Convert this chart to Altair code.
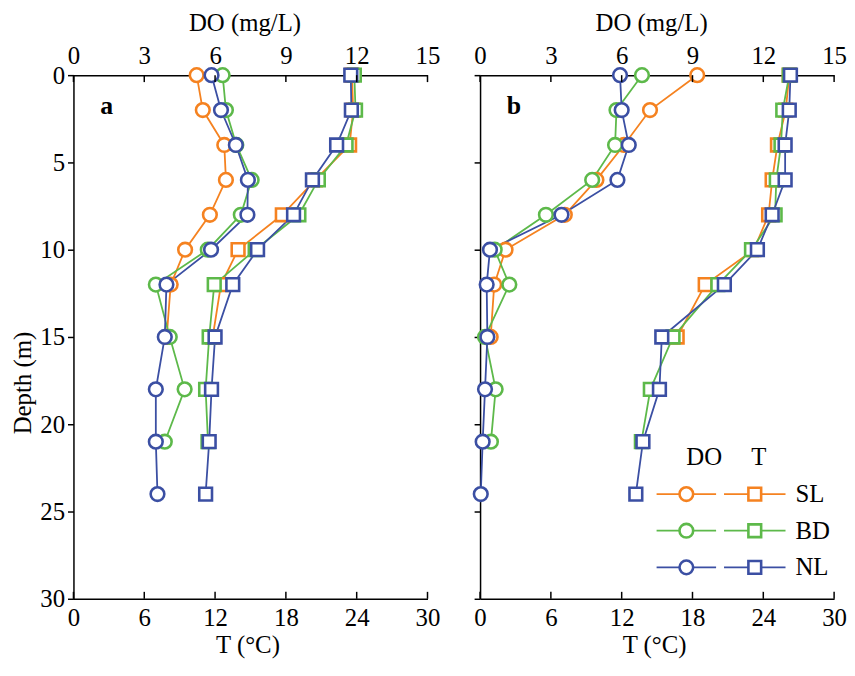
import altair as alt
import pandas as pd

# ---------------- data ----------------
depths = [0, 2, 4, 6, 8, 10, 12, 15, 18, 21, 24]
sites = ["SL", "BD", "NL"]
site_colors = ["#F58220", "#5DB94A", "#3B4FA3"]
do_ticks = [0, 3, 6, 9, 12, 15]
t_ticks = [0, 6, 12, 18, 24, 30]
depth_ticks = [0, 5, 10, 15, 20, 25, 30]

# panel a
a_do_SL = [5.22, 5.48, 6.39, 6.46, 5.78, 4.73, 4.12, 3.95]
a_do_BD = [6.32, 6.46, 6.90, 7.55, 7.09, 5.69, 3.49, 4.08, 4.71, 3.87]
a_do_NL = [5.85, 6.25, 6.88, 7.39, 7.37, 5.83, 3.94, 3.87, 3.49, 3.49, 3.56]
a_t_SL = [23.6, 23.7, 23.4, 20.5, 17.7, 13.95, 12.5, 11.8]
a_t_BD = [23.8, 23.9, 23.1, 20.75, 19.1, 15.4, 11.93, 11.5, 11.2, 11.4]
a_t_NL = [23.5, 23.55, 22.3, 20.25, 18.65, 15.6, 13.5, 12.0, 11.7, 11.5, 11.2]

# panel b
b_do_SL = [9.2, 7.2, 6.1, 4.93, 3.59, 1.08, 0.6, 0.45]
b_do_BD = [6.86, 5.78, 5.72, 4.75, 2.79, 0.62, 1.24, 0.21, 0.66, 0.46]
b_do_NL = [5.93, 6.0, 6.3, 5.82, 3.45, 0.42, 0.28, 0.31, 0.21, 0.11, 0.03]
b_t_SL = [26.2, 25.9, 25.2, 24.75, 24.45, 23.2, 19.08, 16.7]
b_t_BD = [26.2, 25.65, 25.5, 25.1, 25.0, 23.0, 20.15, 16.35, 14.43, 13.67]
b_t_NL = [26.3, 26.2, 25.85, 25.85, 24.75, 23.5, 20.7, 15.4, 15.2, 13.8, 13.2]

# ---------------- layout / style ----------------
W, H = 357, 528
FONT = "Liberation Serif"
FS = 25
CIRCLE, SQUARE, MSW = 190, 165, 2.6
color_scale = alt.Scale(domain=sites, range=site_colors)
AX = dict(labelFont=FONT, labelFontSize=FS, labelColor="black",
          titleFont=FONT, titleFontSize=FS, titleFontWeight="normal", titleColor="black",
          domainColor="black", domainWidth=1.5, tickColor="black", tickWidth=1.5,
          grid=False, labelFlush=False, labelOverlap=False)


def make_df(do_lists, t_lists):
    rows = []
    for site, dov, tv in zip(sites, do_lists, t_lists):
        for d, o, t in zip(depths, dov, tv):
            rows.append({"site": site, "depth": d, "DO": o, "T": t})
    return pd.DataFrame(rows)


def panel(df, letter, first, legend=False):
    base = alt.Chart(df)
    yax = dict(AX, values=depth_ticks, tickSize=6, labelPadding=3, titlePadding=4)
    if first:
        yax["title"] = "Depth (m)"
        yax["titleY"] = H / 2 + 46
    else:
        yax["title"] = ""
        yax["labels"] = False
    y_enc = alt.Y("depth:Q", scale=alt.Scale(domain=[0, 30], reverse=True, nice=False, zero=False),
                  axis=alt.Axis(**yax))
    do_scale = alt.Scale(domain=[0, 15], nice=False, zero=False)
    t_scale = alt.Scale(domain=[0, 30], nice=False, zero=False)
    x_do_ax = alt.X("DO:Q", scale=do_scale,
                    axis=alt.Axis(**dict(AX, orient="top", values=do_ticks, title="DO (mg/L)", tickSize=0,
                                         labelPadding=7, titlePadding=8, titleX=W / 2 - 6)))
    x_t_ax = alt.X("T:Q", scale=t_scale,
                   axis=alt.Axis(**dict(AX, orient="bottom", values=t_ticks, title="T (°C)", tickSize=0,
                                        labelPadding=7, titlePadding=2, titleX=W / 2 - 3)))
    x_do = alt.X("DO:Q", scale=do_scale, axis=None)
    x_t = alt.X("T:Q", scale=t_scale, axis=None)
    col = alt.Color("site:N", scale=color_scale, legend=None)
    stk = alt.Stroke("site:N", scale=color_scale, legend=None)

    l_do = base.mark_line(strokeWidth=1.8).encode(x=x_do_ax, y=y_enc, color=col, order=alt.Order("depth:Q"))
    l_t = base.mark_line(strokeWidth=1.8).encode(x=x_t_ax, y=y_enc, color=col, order=alt.Order("depth:Q"))
    p_do = base.mark_point(shape="circle", filled=False, fill="white", fillOpacity=1, opacity=1,
                           size=CIRCLE, strokeWidth=MSW).encode(x=x_do, y=y_enc, stroke=stk)
    p_t = base.mark_point(shape="square", filled=False, fill="white", fillOpacity=1, opacity=1,
                          size=SQUARE, strokeWidth=MSW).encode(x=x_t, y=y_enc, stroke=stk)

    tick_df = pd.DataFrame({"v": do_ticks})
    tick_x = alt.X("v:Q", scale=do_scale, axis=None)
    t_top = alt.Chart(tick_df).mark_rule(color="black", strokeWidth=1.5).encode(
        x=tick_x, y=alt.value(0), y2=alt.value(7))
    t_bot = alt.Chart(tick_df).mark_rule(color="black", strokeWidth=1.5).encode(
        x=tick_x, y=alt.value(H - 7), y2=alt.value(H))

    lab = alt.Chart(pd.DataFrame({"t": [letter]})).mark_text(
        font=FONT, fontSize=26, fontWeight="bold", align="left", baseline="middle", color="black"
    ).encode(x=alt.value(27), y=alt.value(H * 1.75 / 30), text="t:N")

    layers = [l_do, l_t, p_do, p_t, t_top, t_bot, lab]

    if legend:
        # legend drawn as decoration, positioned in pixels of the plot area
        row_pos = [24.0, 26.1, 28.2]  # vertical placement, as fraction of the depth range
        xc0, xc1, xcc = 178, 238, 208
        xs0, xs1, xsc = 246, 308, 277
        xl = 318
        leg = pd.DataFrame({
            "site": sites,
            "yy": [H * p / 30 for p in row_pos],
            "a0": [xc0] * 3, "a1": [xc1] * 3, "ac": [xcc] * 3,
            "b0": [xs0] * 3, "b1": [xs1] * 3, "bc": [xsc] * 3, "xl": [xl] * 3,
        })
        lb = alt.Chart(leg)
        yy = alt.Y("yy:Q", scale=None, axis=None)
        r1 = lb.mark_rule(strokeWidth=1.8).encode(
            x=alt.X("a0:Q", scale=None, axis=None), x2="a1:Q", y=yy, color=col)
        r2 = lb.mark_rule(strokeWidth=1.8).encode(
            x=alt.X("b0:Q", scale=None, axis=None), x2="b1:Q", y=yy, color=col)
        c1 = lb.mark_point(shape="circle", filled=False, fill="white", fillOpacity=1, opacity=1,
                           size=CIRCLE, strokeWidth=MSW).encode(
            x=alt.X("ac:Q", scale=None, axis=None), y=yy, stroke=stk)
        c2 = lb.mark_point(shape="square", filled=False, fill="white", fillOpacity=1, opacity=1,
                           size=SQUARE, strokeWidth=MSW).encode(
            x=alt.X("bc:Q", scale=None, axis=None), y=yy, stroke=stk)
        tx = lb.mark_text(font=FONT, fontSize=FS, align="left", baseline="middle", color="black").encode(
            x=alt.X("xl:Q", scale=None, axis=None), y=yy, text="site:N")
        hdr = alt.Chart(pd.DataFrame({"h": ["DO", "T"], "hx": [226, 281]})).mark_text(
            font=FONT, fontSize=FS, align="center", baseline="middle", color="black").encode(
            x=alt.X("hx:Q", scale=None, axis=None), y=alt.value(H * 21.9 / 30), text="h:N")
        layers += [r1, r2, c1, c2, tx, hdr]

    return alt.layer(*layers).resolve_scale(x="independent").properties(width=W, height=H)


df_a = make_df([a_do_SL, a_do_BD, a_do_NL], [a_t_SL, a_t_BD, a_t_NL])
df_b = make_df([b_do_SL, b_do_BD, b_do_NL], [b_t_SL, b_t_BD, b_t_NL])

chart = alt.hconcat(
    panel(df_a, "a", True),
    panel(df_b, "b", False, legend=True),
    spacing=53, bounds="flush",
).properties(
    padding={"left": 3, "top": 0, "right": 0, "bottom": 0}
).configure(
    font=FONT
).configure_view(
    strokeWidth=0
).configure_axis(**AX)

chart.save("out.html", embed_options={"renderer": "svg", "actions": False})
